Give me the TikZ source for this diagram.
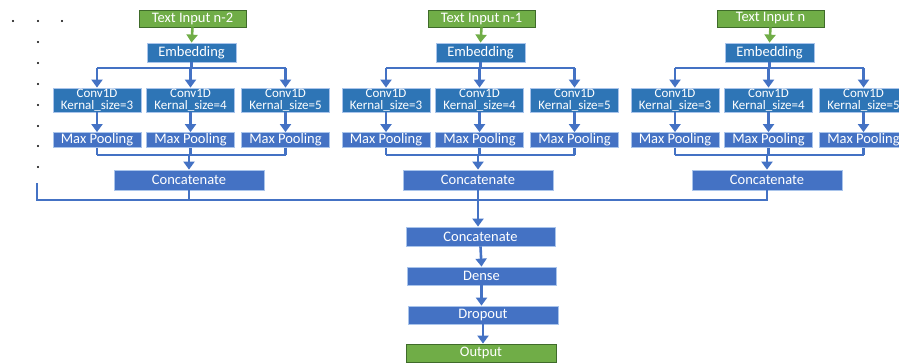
\documentclass[tikz,border=0pt]{standalone}
\usepackage{fontspec}
\setmainfont{Carlito}
\usetikzlibrary{arrows.meta}
\definecolor{boxblue}{HTML}{4472C4}
\definecolor{darkblue}{HTML}{2E75B6}
\definecolor{boxgreen}{HTML}{70AD47}
\definecolor{edgeblue}{HTML}{A9C4EB}
\definecolor{edgegreen}{HTML}{3F6B2A}
\tikzset{
  blk/.style={draw=edgeblue, line width=0.8pt, fill=boxblue, text=white, inner sep=0pt, font=\fontsize{14.5}{15}\selectfont},
  dblk/.style={blk, fill=darkblue},
  convbox/.style={dblk, align=center, font=\fontsize{13}{12.5}\selectfont},
  inbox/.style={draw=edgegreen, line width=0.8pt, fill=boxgreen, text=white, inner sep=0pt, font=\fontsize{14.5}{15}\selectfont},
  conn/.style={draw=boxblue, line width=2.6pt},
  arr/.style={conn, -{Triangle[width=11pt,length=8pt]}},
  garr/.style={draw=boxgreen, line width=2.6pt, -{Triangle[width=11pt,length=8pt]}},
  dotmark/.style={fill=black, inner sep=0pt, minimum size=2.2pt, circle}
}
\begin{document}
\begin{tikzpicture}[x=1pt,y=-1pt]
\useasboundingbox (0,0) rectangle (899,362);
\clip (0,0) rectangle (899,362);
% bullet dots
\foreach \i/\p in {a/{(13,21)},b/{(38,21)},c/{(62,21)},d/{(38,42)},e/{(38,63)},f/{(38,84)},g/{(38,105)},h/{(38,126)},k/{(38,146)},l/{(38,167)}}
  \node[dotmark] (dot\i) at \p {};
% three branches
\foreach \g/\dx/\lab in {1/0/{n-2},2/289/{n-1},3/578/{n}} {
  \node[inbox, minimum width=107pt, minimum height=17pt] (in\g) at (192.5+\dx,18.5) {Text Input \lab};
  \node[dblk, minimum width=89pt, minimum height=19pt] (emb\g) at (191.5+\dx,52.5) {Embedding};
  \foreach \k/\cx/\ks in {a/97/3,b/190.5/4,c/285.5/5} {
    \node[convbox, minimum width=88pt, minimum height=24pt] (cv\g\k) at (\cx+\dx,100) {Conv1D\\Kernal\_size=\ks};
    \node[blk, minimum width=88pt, minimum height=15pt] (mp\g\k) at (\cx+\dx,140) {Max Pooling};
  }
  \node[blk, minimum width=150pt, minimum height=20pt] (cc\g) at (189+\dx,180) {Concatenate};
  \coordinate (br\g) at (191.5+\dx,68);
  \coordinate (mg\g) at (189+\dx,155);
  \draw[garr] (in\g.south) -- (emb\g.north);
  \draw[conn] (emb\g.south) -- (br\g);
  \draw[conn] (cv\g a.north |- br\g) -- (cv\g c.north |- br\g);
  \foreach \k in {a,b,c} {
    \draw[arr] (cv\g\k.north |- br\g) -- (cv\g\k.north);
    \draw[arr] (cv\g\k.south) -- (mp\g\k.north);
    \draw[conn] (mp\g\k.south) -- (mp\g\k.south |- mg\g);
  }
  \draw[conn] (mp\g a.south |- mg\g) -- (mp\g c.south |- mg\g);
  \draw[arr] (mg\g) -- (cc\g.north);
}
% head
\node[blk, minimum width=149pt, minimum height=19pt] (fcc) at (480.5,236.5) {Concatenate};
\node[blk, minimum width=149pt, minimum height=18pt] (dense) at (481.5,276) {Dense};
\node[blk, minimum width=150pt, minimum height=18pt] (drop) at (483,315) {Dropout};
\node[inbox, minimum width=150pt, minimum height=18pt] (out) at (481,353) {Output};
\coordinate (lstart) at (37,183);
\coordinate (lcorner) at (37,200);
\draw[conn] (lstart) -- (lcorner) -- (cc3.south |- lcorner) -- (cc3.south);
\draw[conn] (cc1.south) -- (cc1.south |- lcorner);
\draw[arr] (cc2.south) -- (cc2.south |- fcc.north);
\draw[arr] (fcc.south) -- (dense.north);
\draw[arr] (dense.south) -- (dense.south |- drop.north);
\draw[arr] (drop.south) -- (drop.south |- out.north);
\end{tikzpicture}
\end{document}
